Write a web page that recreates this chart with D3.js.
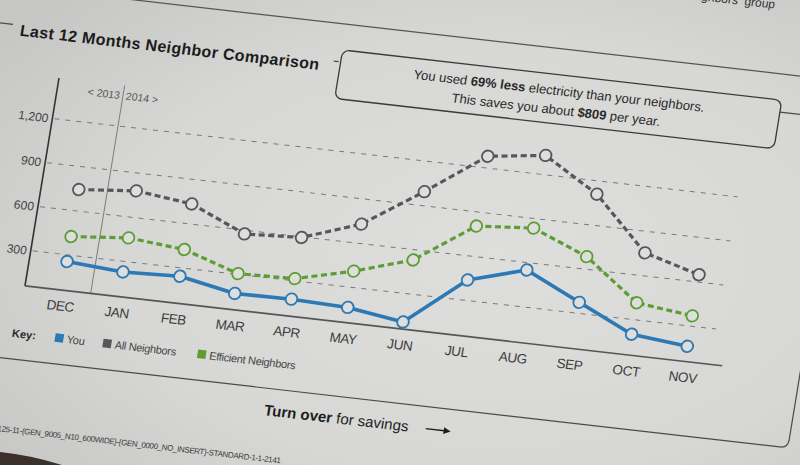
<!DOCTYPE html>
<html>
<head>
<meta charset="utf-8">
<script src="https://cdn.jsdelivr.net/npm/d3@7/dist/d3.min.js"></script>
<style>
  html, body { margin: 0; padding: 0; background: #d4d4d2; }
  svg { display: block; }
  text { font-family: "Liberation Sans", Arial, Helvetica, sans-serif; }
</style>
</head>
<body>
<svg id="chart" width="800" height="465"></svg>
<script>
// ---- data ----
const months = ["DEC", "JAN", "FEB", "MAR", "APR", "MAY", "JUN", "JUL", "AUG", "SEP", "OCT", "NOV"];
const youValues = [255, 228, 243, 170, 175, 163, 108, 438, 550, 374, 201, 163];
const allNeighborsValues = [745, 780, 735, 575, 595, 730, 995, 1280, 1330, 1110, 755, 650];
const efficientValues = [425, 460, 425, 305, 315, 410, 530, 805, 835, 685, 415, 370];
const yTickValues = [300, 600, 900, 1200];
const yDomain = [60, 1475];
const yearLeft = "< 2013";
const yearRight = "2014 >";
const legendLabels = ["You", "All Neighbors", "Efficient Neighbors"];

// ---- setup ----
const svg = d3.select("#chart");
const Wd = 800, Hd = 465;

const defs = svg.append("defs");
const grad = defs.append("radialGradient").attr("id", "paper")
  .attr("cx", "62%").attr("cy", "55%").attr("r", "78%");
grad.append("stop").attr("offset", "0%").attr("stop-color", "#dededc");
grad.append("stop").attr("offset", "60%").attr("stop-color", "#d7d7d5");
grad.append("stop").attr("offset", "100%").attr("stop-color", "#c6c6c4");
svg.append("rect").attr("width", Wd).attr("height", Hd).attr("fill", "url(#paper)");

// table edge in the bottom-left corner
svg.append("path").attr("d", "M0,452 Q30,455 62,465 L0,465 Z").attr("fill", "#3b302a");

// the printed page, seen at an angle
const page = svg.append("g").attr("transform", "matrix(0.996,0.114,-0.162,0.99,59,78)");

const W = 700, H = 210;
const x = d3.scalePoint().domain(months).range([0, W]).padding(0.66);
const y = d3.scaleLinear().domain(yDomain).range([H, 0]);

const colors = { you: "#2c79b6", all: "#55575a", eff: "#5c9e34" };
const inkDark = "#2a2a2a";

// ---- section frame ----
page.append("line").attr("x1", -200).attr("x2", 900).attr("y1", -86).attr("y2", -86)
  .attr("stroke", "#555").attr("stroke-width", 1.2);
page.append("text").attr("x", 694).attr("y", -150).attr("text-anchor", "end")
  .attr("font-size", 12).attr("fill", "#333").text("neighbors\u00a0\u00a0group");

page.append("path")
  .attr("d", "M-120,-48 L-54,-48 M268,-48 L273,-48 M716,-48 L770,-48 Q778,-48 778,-40 L778,276 Q778,284 770,284 L-120,284")
  .attr("fill", "none").attr("stroke", "#4a4a4a").attr("stroke-width", 1.2);

page.append("text").attr("x", -46).attr("y", -37.5)
  .attr("font-size", 16).attr("font-weight", "bold").attr("letter-spacing", "0.35").attr("fill", "#1c1c1c")
  .text("Last 12 Months Neighbor Comparison");

// callout box
page.append("rect").attr("x", 275).attr("y", -60).attr("width", 441).attr("height", 49)
  .attr("rx", 7).attr("fill", "none").attr("stroke", "#3a3a3a").attr("stroke-width", 1.3);
const c1 = page.append("text").attr("x", 495).attr("y", -39.5).attr("text-anchor", "middle")
  .attr("font-size", 13).attr("fill", inkDark);
c1.append("tspan").text("You used ");
c1.append("tspan").attr("font-weight", "bold").text("69% less");
c1.append("tspan").text(" electricity than your neighbors.");
const c2 = page.append("text").attr("x", 495).attr("y", -20.5).attr("text-anchor", "middle")
  .attr("font-size", 13).attr("fill", inkDark);
c2.append("tspan").text("This saves you about ");
c2.append("tspan").attr("font-weight", "bold").text("$809");
c2.append("tspan").text(" per year.");

// ---- plot ----
const plot = page.append("g");

// gridlines
plot.append("g").selectAll("line").data(yTickValues).join("line")
  .attr("x1", 2).attr("x2", 688)
  .attr("y1", d => y(d)).attr("y2", d => y(d))
  .attr("stroke", "#7a7a7a").attr("stroke-width", 1).attr("stroke-dasharray", "5,6");

// year divider
const divX = (x(months[0]) + x(months[1])) / 2;
plot.append("line").attr("x1", divX).attr("x2", divX).attr("y1", 0).attr("y2", H)
  .attr("stroke", "#777").attr("stroke-width", 0.9);
plot.append("text").attr("x", divX - 3).attr("y", 14).attr("text-anchor", "end")
  .attr("font-size", 10.5).attr("fill", "#555").text(yearLeft);
plot.append("text").attr("x", divX + 3).attr("y", 14).attr("text-anchor", "start")
  .attr("font-size", 10.5).attr("fill", "#555").text(yearRight);

// y axis
const yAxis = d3.axisLeft(y).tickValues(yTickValues).tickSize(0).tickPadding(4)
  .tickFormat(d3.format(","));
const yg = plot.append("g").call(yAxis);
yg.select(".domain").remove();
yg.selectAll("text").attr("font-size", 12).attr("fill", "#444")
  .attr("font-family", "'Liberation Sans', Arial, sans-serif");
plot.append("line").attr("x1", 0).attr("x2", 0).attr("y1", 0).attr("y2", H)
  .attr("stroke", "#333").attr("stroke-width", 1.6);

// x axis
const xAxis = d3.axisBottom(x).tickSize(0).tickPadding(11);
const xg = plot.append("g").attr("transform", `translate(0,${H})`).call(xAxis);
xg.select(".domain").remove();
xg.selectAll("text").attr("font-size", 13.5).attr("fill", "#3c3c3c")
  .attr("letter-spacing", "-0.4").attr("font-family", "'Liberation Sans', Arial, sans-serif");
plot.append("line").attr("x1", 0).attr("x2", W).attr("y1", H).attr("y2", H)
  .attr("stroke", "#555").attr("stroke-width", 1.6);

// series
const seriesList = [
  { key: "all", values: allNeighborsValues, color: colors.all, dash: "6,3.5", width: 3.2 },
  { key: "eff", values: efficientValues, color: colors.eff, dash: "6,3.5", width: 3.2 },
  { key: "you", values: youValues, color: colors.you, dash: null, width: 3.6 }
];
const line = d3.line().x((d, i) => x(months[i])).y(d => y(d));
seriesList.forEach(s => {
  const g = plot.append("g");
  g.append("path").datum(s.values).attr("d", line)
    .attr("fill", "none").attr("stroke", s.color).attr("stroke-width", s.width)
    .attr("stroke-dasharray", s.dash).attr("stroke-linejoin", "round");
  g.selectAll("circle").data(s.values).join("circle")
    .attr("cx", (d, i) => x(months[i])).attr("cy", d => y(d)).attr("r", 5.8)
    .attr("fill", "#dededc").attr("stroke", s.color).attr("stroke-width", 1.8);
});

// legend
const leg = page.append("g").attr("transform", "translate(0,258)");
leg.append("text").attr("x", -5).attr("y", 4).attr("font-size", 11)
  .attr("font-weight", "bold").attr("fill", "#2a2a2a").text("Key:");
const legX = [38, 86, 181];
const legColors = [colors.you, colors.all, colors.eff];
legendLabels.forEach((lab, i) => {
  leg.append("rect").attr("x", legX[i]).attr("y", -4.5).attr("width", 8.5).attr("height", 8.5)
    .attr("fill", legColors[i]);
  leg.append("text").attr("x", legX[i] + 12).attr("y", 4).attr("font-size", 11)
    .attr("letter-spacing", "-0.3").attr("fill", "#444").text(lab);
});

// footer
const turn = page.append("text").attr("x", 256).attr("y", 311).attr("font-size", 15)
  .attr("fill", "#1e1e1e");
turn.append("tspan").attr("font-weight", "bold").text("Turn over");
turn.append("tspan").text(" for savings");
page.append("path").attr("d", "M 418,306 L 439,306").attr("stroke", "#1e1e1e").attr("stroke-width", 1.4);
page.append("path").attr("d", "M 436,302.5 L 443,306 L 436,309.5 Z").attr("fill", "#1e1e1e");

page.append("text").attr("x", 280).attr("y", 357).attr("text-anchor", "end")
  .attr("font-size", 8).attr("letter-spacing", "-0.35").attr("fill", "#3a3a3a")
  .text("125-11-{GEN_9005_N10_600WIDE}-{GEN_0000_NO_INSERT}-STANDARD-1-1-2141");
</script>
</body>
</html>
